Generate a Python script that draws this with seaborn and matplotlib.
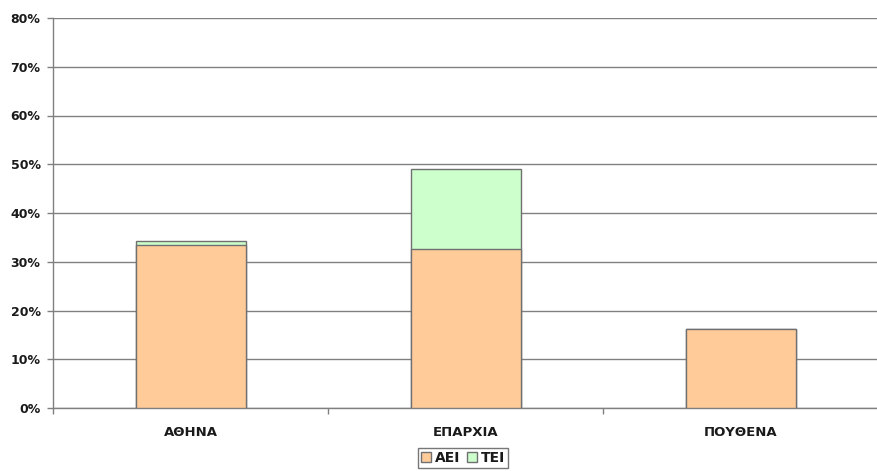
import numpy as np
import pandas as pd
import matplotlib
matplotlib.use("Agg")
import matplotlib.pyplot as plt
import seaborn as sns
from matplotlib.patches import Patch

# data (percent)
categories = ["ΑΘΗΝΑ", "ΕΠΑΡΧΙΑ", "ΠΟΥΘΕΝΑ"]
aei = [33.4, 32.7, 16.2]
tei = [0.9, 16.3, 0.0]
y_ticks = [0, 10, 20, 30, 40, 50, 60, 70, 80]

AEI_COLOR = "#FFCC99"
TEI_COLOR = "#CCFFCC"
EDGE = "#707070"
TXT = "#1a1a1a"

sns.set_theme(style="white")
plt.rcParams["font.family"] = ["DejaVu Sans"]

df = pd.DataFrame({"cat": categories, "aei": aei, "tei": tei})
df["total"] = df["aei"] + df["tei"]

fig = plt.figure(figsize=(8.77, 4.71), dpi=100)
ax = fig.add_axes([53 / 877, 1 - 408 / 471, 825 / 877, 390 / 471])

# stacked: draw totals (TEI on top), then AEI over them
sns.barplot(data=df, x="cat", y="total", color=TEI_COLOR, width=0.4,
            edgecolor=EDGE, linewidth=1.0, saturation=1, ax=ax, zorder=3)
sns.barplot(data=df, x="cat", y="aei", color=AEI_COLOR, width=0.4,
            edgecolor=EDGE, linewidth=1.0, saturation=1, ax=ax, zorder=3)

ax.set_ylim(0, 80)
ax.set_xlim(-0.5, 2.5)
ax.set_yticks(y_ticks)
ax.set_yticklabels([f"{v}%" for v in y_ticks], fontsize=9, fontweight="bold",
                   color=TXT)
ax.yaxis.grid(True, color="#808080", linewidth=1.0, zorder=0)
ax.set_axisbelow(True)

ax.set_xticks([0, 1, 2])
ax.set_xticklabels(categories, fontsize=9.5, fontweight="bold", color=TXT)
ax.set_xticks([-0.5, 0.5, 1.5, 2.5], minor=True)
ax.tick_params(axis="x", which="major", length=0, pad=13)
ax.tick_params(axis="x", which="minor", length=4, width=1, color="#808080",
               direction="out", bottom=True)
ax.tick_params(axis="y", length=4, width=1, color="#808080", direction="out",
               left=True, pad=5)
ax.set_xlabel("")
ax.set_ylabel("")

for side in ["top", "right"]:
    ax.spines[side].set_visible(False)
for side in ["left", "bottom"]:
    ax.spines[side].set_color("#808080")
    ax.spines[side].set_linewidth(1.0)

handles = [Patch(facecolor=AEI_COLOR, edgecolor=EDGE, label="ΑΕΙ"),
           Patch(facecolor=TEI_COLOR, edgecolor=EDGE, label="ΤΕΙ")]
leg = fig.legend(handles=handles, loc="center", ncol=2,
                 bbox_to_anchor=(463 / 877, 1 - 458 / 471),
                 frameon=True, fancybox=False, edgecolor="#555555",
                 handlelength=0.75, handleheight=0.75, handletextpad=0.25,
                 columnspacing=0.5, borderpad=0.2, borderaxespad=0,
                 prop={"size": 10, "weight": "bold"})
leg.get_frame().set_linewidth(1.0)
for t in leg.get_texts():
    t.set_color(TXT)

fig.savefig("out.png", dpi=100, facecolor="white")
